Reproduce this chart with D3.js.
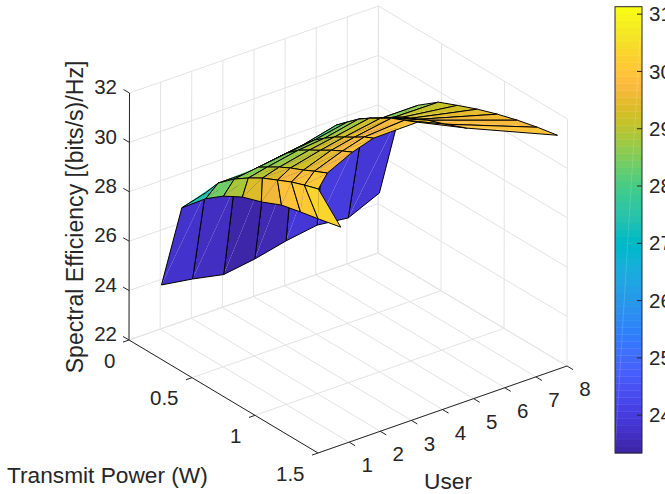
<!DOCTYPE html>
<html>
<head>
<meta charset="utf-8">
<script src="https://cdn.jsdelivr.net/npm/d3@7"></script>
<style>
  html, body { margin: 0; padding: 0; background: #fff; overflow: hidden; }
  svg { display: block; }
  text { font-family: "Liberation Sans", Arial, sans-serif; fill: #262626; }
</style>
</head>
<body>
<svg id="chart" width="665" height="494"></svg>
<script>
// === Data ===
const users = [1, 2, 3, 4, 5, 6, 7, 8];
const powerTicks = [0, 0.5, 1, 1.5];
const powerTickLabels = ['0', '0.5', '1', '1.5'];
const effTicks = [22, 24, 26, 28, 30, 32];
const cbarTicks = [24, 25, 26, 27, 28, 29, 30, 31];

// one row per user, power goes up along the row
const powerByUser = [
  [0.01, 0.17, 0.36, 0.50, 0.65, 0.80, 0.96, 1.11, 1.25, 1.43],
  [0.01, 0.109, 0.212, 0.339, 0.450, 0.562, 0.681, 0.792, 0.895, 1.006],
  [0.01, 0.092, 0.211, 0.283, 0.354, 0.449, 0.537, 0.640, 0.727, 0.830],
  [0.01, 0.091, 0.179, 0.266, 0.353, 0.440, 0.528, 0.615, 0.702, 0.782],
  [0.01, 0.067, 0.154, 0.233, 0.313, 0.392, 0.471, 0.551, 0.630, 0.702],
  [0.01, 0.058, 0.161, 0.248, 0.335, 0.423, 0.510, 0.597, 0.700, 0.804],
  [0.01, 0.120, 0.247, 0.374, 0.445, 0.509, 0.572, 0.644, 0.779, 0.953],
  [0.01, 0.167, 0.317, 0.476, 0.627, 0.786, 0.944, 1.103, 1.262, 1.421]
];
const effByUser = [
  [23.82, 27.43, 28.38, 28.91, 29.33, 29.59, 29.95, 30.13, 30.28, 30.49],
  [23.62, 27.40, 28.12, 28.67, 29.05, 29.39, 29.67, 29.93, 30.12, 30.30],
  [23.36, 27.11, 28.12, 28.54, 28.76, 29.05, 29.28, 29.51, 29.73, 29.97],
  [23.55, 27.28, 28.15, 28.62, 29.00, 29.27, 29.53, 29.80, 30.03, 30.23],
  [23.84, 27.32, 28.20, 28.60, 28.92, 29.21, 29.45, 29.69, 29.94, 30.11],
  [24.04, 27.58, 28.55, 28.94, 29.32, 29.63, 29.89, 30.16, 30.39, 30.63],
  [23.89, 27.82, 28.61, 29.08, 29.30, 29.45, 29.60, 29.78, 30.03, 30.40],
  [24.46, 28.09, 28.95, 29.56, 29.89, 30.22, 30.50, 30.74, 30.94, 31.10]
];
const colorLimits = [23.34, 31.13];

const parula = [
  [0.2422,0.1504,0.6603],[0.2504,0.1650,0.7076],[0.2578,0.1818,0.7511],[0.2647,0.1978,0.7952],
  [0.2706,0.2147,0.8364],[0.2751,0.2342,0.8710],[0.2783,0.2559,0.8991],[0.2803,0.2782,0.9221],
  [0.2813,0.3006,0.9414],[0.2810,0.3228,0.9579],[0.2795,0.3447,0.9717],[0.2760,0.3667,0.9829],
  [0.2699,0.3892,0.9906],[0.2602,0.4123,0.9952],[0.2440,0.4358,0.9988],[0.2206,0.4603,0.9973],
  [0.1963,0.4847,0.9892],[0.1834,0.5074,0.9798],[0.1786,0.5289,0.9682],[0.1764,0.5499,0.9520],
  [0.1687,0.5703,0.9359],[0.1540,0.5902,0.9218],[0.1460,0.6091,0.9079],[0.1380,0.6276,0.8973],
  [0.1248,0.6459,0.8883],[0.1113,0.6635,0.8763],[0.0952,0.6798,0.8598],[0.0689,0.6948,0.8394],
  [0.0297,0.7082,0.8163],[0.0036,0.7203,0.7917],[0.0067,0.7312,0.7660],[0.0433,0.7411,0.7394],
  [0.0964,0.7500,0.7120],[0.1408,0.7584,0.6842],[0.1717,0.7670,0.6554],[0.1938,0.7758,0.6251],
  [0.2161,0.7843,0.5923],[0.2470,0.7918,0.5567],[0.2906,0.7973,0.5188],[0.3406,0.8008,0.4789],
  [0.3909,0.8029,0.4354],[0.4456,0.8024,0.3909],[0.5044,0.7993,0.3480],[0.5616,0.7942,0.3045],
  [0.6174,0.7876,0.2612],[0.6720,0.7793,0.2227],[0.7242,0.7698,0.1910],[0.7738,0.7598,0.1646],
  [0.8203,0.7498,0.1535],[0.8634,0.7406,0.1596],[0.9035,0.7330,0.1774],[0.9393,0.7288,0.2100],
  [0.9728,0.7298,0.2394],[0.9956,0.7434,0.2371],[0.9970,0.7659,0.2199],[0.9952,0.7893,0.2028],
  [0.9892,0.8136,0.1885],[0.9786,0.8386,0.1766],[0.9676,0.8639,0.1643],[0.9610,0.8890,0.1537],
  [0.9597,0.9135,0.1423],[0.9628,0.9373,0.1265],[0.9691,0.9606,0.1064],[0.9769,0.9839,0.0805]
].map(([r, g, b]) => d3.rgb(r * 255, g * 255, b * 255).formatHex());

// === Scales and the fixed orthographic view ===
const pScale = d3.scaleLinear().domain([0, 1.5]).range([0, 1]);
const uScale = d3.scaleLinear().domain([0, 8]).range([0, 1]);
const zScale = d3.scaleLinear().domain([22, 32]).range([0, 1]);
const color = d3.scaleQuantize().domain(colorLimits).range(parula);

const origin = [129, 340];
const pVec = [189, 113];
const uVec = [249, -87];
const zVec = [0.5, -247];

function project(p, u, z) {
  const a = pScale(p), b = uScale(u), c = zScale(z);
  return [
    origin[0] + a * pVec[0] + b * uVec[0] + c * zVec[0],
    origin[1] + a * pVec[1] + b * uVec[1] + c * zVec[1]
  ];
}
// bigger is closer to the viewer
function depth(p, u, z) {
  return 222 * pScale(p) - 168 * uScale(u) + 126 * zScale(z);
}

const svg = d3.select('#chart');
const gridColor = '#e3e3e3';
const inkColor = '#262626';
const line = d3.line();

// === Box grid ===
const grid = svg.append('g').attr('fill', 'none').attr('stroke', gridColor).attr('stroke-width', 1);
function gridLine(a, b) {
  grid.append('path').attr('d', line([project(...a), project(...b)]));
}
d3.range(0, 9).forEach((u) => {
  gridLine([0, u, 22], [1.5, u, 22]);
  gridLine([0, u, 22], [0, u, 32]);
});
powerTicks.forEach((p) => {
  gridLine([p, 0, 22], [p, 8, 22]);
  gridLine([p, 8, 22], [p, 8, 32]);
});
effTicks.forEach((z) => {
  gridLine([0, 0, z], [0, 8, z]);
  gridLine([0, 8, z], [1.5, 8, z]);
});

// === Surface, faces painted back to front ===
const faces = [];
for (let i = 0; i < users.length - 1; i++) {
  for (let k = 0; k < powerByUser[i].length - 1; k++) {
    const corners = [[i, k], [i + 1, k], [i + 1, k + 1], [i, k + 1]]
      .map(([a, b]) => [powerByUser[a][b], users[a], effByUser[a][b]]);
    faces.push({
      pts: corners.map((c) => project(...c)),
      key: d3.mean(corners, (c) => depth(...c)),
      fill: color(effByUser[i][k])
    });
  }
}
faces.sort((a, b) => d3.ascending(a.key, b.key));

const surface = svg.append('g').attr('stroke-linejoin', 'round');
faces.forEach((f) => {
  const g = surface.append('g');
  // two triangles, the hairline seam between them is in the original too
  g.append('path').attr('d', line([f.pts[0], f.pts[1], f.pts[2]]) + 'Z').attr('fill', f.fill);
  g.append('path').attr('d', line([f.pts[0], f.pts[2], f.pts[3]]) + 'Z').attr('fill', f.fill);
  g.append('path').attr('d', line(f.pts) + 'Z').attr('fill', 'none')
    .attr('stroke', '#000').attr('stroke-width', 1);
});

// === Axes ===
const axes = svg.append('g').attr('stroke', inkColor).attr('stroke-width', 1).attr('fill', 'none');
function axisLine(a, b) {
  axes.append('path').attr('d', line([a, b]));
}
axisLine(project(0, 0, 22), project(1.5, 0, 22));
axisLine(project(1.5, 0, 22), project(1.5, 8, 22));
axisLine(project(0, 0, 22), project(0, 0, 32));

effTicks.forEach((z) => {
  const t = project(0, 0, z);
  axisLine(t, [t[0] - 6, t[1] - 3.5]);
  svg.append('text').attr('x', 117).attr('y', t[1] - 6).attr('dy', '0.35em')
    .attr('text-anchor', 'end').attr('font-size', 20.5).text(z);
});
powerTicks.forEach((p, i) => {
  const t = project(p, 0, 22);
  axisLine(t, [t[0] - 6, t[1] + 2.1]);
  svg.append('text').attr('x', t[0] - 13.5).attr('y', t[1] + 20.5).attr('dy', '0.35em')
    .attr('text-anchor', 'end').attr('font-size', 20.5).text(powerTickLabels[i]);
});
users.forEach((u) => {
  const t = project(1.5, u, 22);
  axisLine(t, [t[0] + 6, t[1] + 3.6]);
  svg.append('text').attr('x', t[0] + 18).attr('y', t[1] + 23).attr('dy', '0.35em')
    .attr('text-anchor', 'middle').attr('font-size', 20.5).text(u);
});

svg.append('text').attr('x', 7).attr('y', 475).attr('dy', '0.35em')
  .attr('font-size', 22.7).text('Transmit Power (W)');
svg.append('text').attr('x', 448).attr('y', 481).attr('dy', '0.35em')
  .attr('text-anchor', 'middle').attr('font-size', 22.7).text('User');
svg.append('text').attr('transform', 'translate(75,217) rotate(-90)').attr('dy', '0.35em')
  .attr('text-anchor', 'middle').attr('font-size', 23.1).text('Spectral Efficiency [(bits/s)/Hz]');

// === Colorbar ===
const cbarX = 615, cbarW = 27;
const cbarY = d3.scaleLinear().domain(colorLimits).range([453, 6.7]);
const bandH = (cbarY(colorLimits[0]) - cbarY(colorLimits[1])) / parula.length;
const bar = svg.append('g');
parula.forEach((c, i) => {
  bar.append('rect').attr('x', cbarX).attr('width', cbarW)
    .attr('y', cbarY(colorLimits[0]) - (i + 1) * bandH).attr('height', bandH + 0.4)
    .attr('fill', c);
});
bar.append('path').attr('d', line([[cbarX + cbarW, cbarY(colorLimits[1])], [cbarX, cbarY(colorLimits[0])]]))
  .attr('stroke', '#fff').attr('stroke-opacity', 0.22).attr('stroke-width', 0.7);
bar.append('rect').attr('x', cbarX).attr('y', cbarY(colorLimits[1])).attr('width', cbarW)
  .attr('height', cbarY(colorLimits[0]) - cbarY(colorLimits[1]))
  .attr('fill', 'none').attr('stroke', inkColor).attr('stroke-width', 1);
cbarTicks.forEach((v) => {
  const y = cbarY(v);
  bar.append('path').attr('d', line([[cbarX + cbarW - 5, y], [cbarX + cbarW, y]]))
    .attr('stroke', inkColor).attr('stroke-width', 1);
  svg.append('text').attr('x', 649).attr('y', y).attr('dy', '0.35em')
    .attr('font-size', 20.5).text(v);
});
</script>
</body>
</html>
